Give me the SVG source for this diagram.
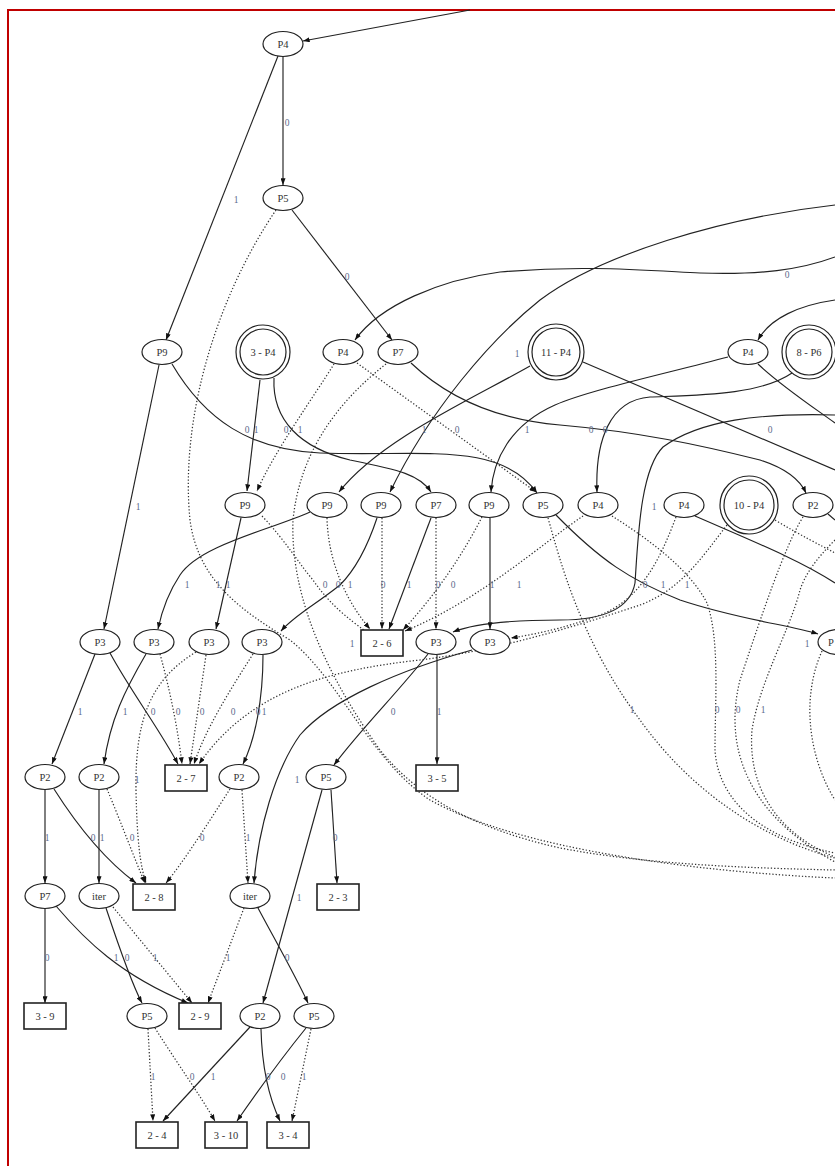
<svg xmlns="http://www.w3.org/2000/svg" width="835" height="1166" viewBox="0 0 835 1166">
<defs>
<style>
.n ellipse,.n circle{fill:#fff;stroke:#222;stroke-width:1.2}
.n rect{fill:#fff;stroke:#222;stroke-width:1.6}
.n text{font-family:"Liberation Serif",serif;font-size:10.5px;fill:#333;text-anchor:middle}
.e path{fill:none;stroke:#222;stroke-width:1.15}
.e path.d{stroke-dasharray:1.3,2;stroke:#333;stroke-width:1.25}
.s{marker-end:url(#a)}
.l text{font-family:"Liberation Serif",serif;font-size:9.5px;fill:#5b6b8c;text-anchor:middle}
</style>
<marker id="a" viewBox="0 0 8 6" refX="8" refY="3" markerWidth="7" markerHeight="5" markerUnits="userSpaceOnUse" orient="auto"><path d="M0,0L8,3L0,6z" fill="#111"/></marker>
</defs>
<rect x="0" y="0" width="835" height="1166" fill="#fff"/>
<rect x="8" y="10" width="900" height="1250" fill="none" stroke="#c00000" stroke-width="2"/>
<g class="e" id="connectors">
<path class="s" d="M470,10 L303,41"/>
<path class="s" d="M283,57 L283,185"/>
<path class="s" d="M278,56 L166,340"/>
<path class="s" d="M292,210 L392,340"/>
<path class="d" d="M276,210 C215,300 180,420 190,520 C198,580 240,610 290,640 C340,680 370,760 430,800 C520,850 700,872 835,878"/>
<path class="d" d="M386,364 C340,400 300,450 293,520 C290,600 330,680 380,750 C420,800 480,830 560,848 C650,865 750,868 835,870"/>
<path class="s" d="M159,365 L104,629"/>
<path class="s" d="M172,364 C205,420 250,450 320,453 C420,457 500,440 537,493"/>
<path class="s" d="M260,380 L247,491"/>
<path class="s" d="M274,378 C272,420 300,448 350,460 C400,470 420,475 431,492"/>
<path class="d s" d="M334,364 C315,395 275,450 257,491"/>
<path class="d s" d="M357,363 L536,492"/>
<path class="s" d="M411,363 C450,400 500,420 560,425 C640,432 700,445 760,460 C785,468 800,480 806,493"/>
<path class="s" d="M530,366 C470,400 380,440 339,492"/>
<path class="s" d="M835,205 C720,218 600,255 540,300 C490,340 430,410 390,492"/>
<path class="s" d="M835,257 C800,270 760,275 700,273 C640,270 580,265 500,272 C440,280 380,305 355,340"/>
<path d="M583,362 C650,390 720,420 835,470"/>
<path class="s" d="M728,357 C660,375 590,390 555,405 C510,425 493,460 491,492"/>
<path d="M758,364 C780,385 810,405 835,423"/>
<path class="s" d="M792,373 C760,395 700,395 650,397 C610,400 595,440 597,492"/>
<path class="s" d="M835,300 C800,305 770,318 758,340"/>
<path class="s" d="M835,415 C760,413 700,420 663,447 C640,470 638,540 635,583 C630,610 600,620 560,620 C500,620 470,625 453,632"/>
<path class="s" d="M241,518 L216,629"/>
<path class="d" d="M262,516 C285,540 300,565 313,580 C330,605 350,620 364,630"/>
<path class="s" d="M310,512 C270,530 200,545 180,575 C170,590 162,610 158,629"/>
<path class="d s" d="M327,518 C328,560 345,600 370,629"/>
<path class="s" d="M377,518 C368,545 355,570 340,585 C315,605 295,615 281,631"/>
<path class="d s" d="M382,518 L382,629"/>
<path class="s" d="M431,518 L389,629"/>
<path class="d s" d="M436,518 L436,629"/>
<path class="s" d="M490,518 L490,629"/>
<path class="d s" d="M482,517 C465,550 440,590 403,630"/>
<path class="d s" d="M583,516 C540,545 480,600 405,631"/>
<path class="s" d="M556,515 C600,560 630,580 680,600 C740,620 790,625 818,634"/>
<path class="d" d="M548,518 C560,560 580,640 640,720 C690,790 760,838 835,858"/>
<path class="d" d="M612,516 C650,540 690,570 707,603 C720,640 715,700 715,750 C718,800 760,838 835,853"/>
<path class="d s" d="M676,517 C660,560 640,600 600,615 C560,630 530,635 511,638"/>
<path class="d s" d="M727,525 C700,560 680,590 640,605 C580,625 500,650 420,660 C330,670 250,690 199,764"/>
<path d="M695,516 C750,540 800,560 835,583"/>
<path class="d" d="M775,520 C800,535 820,545 835,553"/>
<path class="d" d="M803,517 C785,545 760,620 740,680 C725,740 740,810 835,862"/>
<path d="M828,514 L835,520"/>
<path class="d" d="M822,651 C800,700 810,760 835,800"/>
<path class="d" d="M835,540 C815,560 805,575 800,590 C790,630 760,680 752,730 C748,780 770,830 835,857"/>
<path class="s" d="M95,654 L52,764"/>
<path class="s" d="M110,653 C130,690 160,730 178,764"/>
<path class="s" d="M146,654 C125,690 110,720 104,764"/>
<path class="d s" d="M160,654 C170,690 178,730 182,764"/>
<path class="d s" d="M206,655 L190,764"/>
<path class="d s" d="M196,652 C150,680 135,720 136,790 C137,840 140,865 146,883"/>
<path class="d s" d="M253,654 C230,690 205,730 194,764"/>
<path class="s" d="M263,655 C263,700 255,740 243,764"/>
<path class="s" d="M428,654 C400,690 360,730 334,765"/>
<path class="s" d="M437,655 L437,764"/>
<path class="s" d="M472,650 C400,670 330,700 300,735 C275,770 258,830 254,883"/>
<path class="s" d="M45,790 L45,883"/>
<path class="s" d="M54,789 C80,830 105,860 136,883"/>
<path class="s" d="M99,790 L99,883"/>
<path class="d s" d="M107,789 C120,820 135,860 145,883"/>
<path class="d s" d="M230,789 C210,820 185,860 166,883"/>
<path class="d s" d="M242,790 L248,883"/>
<path class="s" d="M322,790 L263,1003"/>
<path class="s" d="M331,790 L337,883"/>
<path class="s" d="M45,909 L45,1003"/>
<path class="s" d="M56,906 C85,940 120,975 188,1003"/>
<path class="s" d="M106,908 C120,950 135,990 142,1003"/>
<path class="d s" d="M113,907 L192,1003"/>
<path class="d s" d="M244,908 L208,1003"/>
<path class="s" d="M258,908 C275,940 295,975 308,1003"/>
<path class="d s" d="M148,1029 L153,1121"/>
<path class="d s" d="M155,1028 C175,1060 200,1095 215,1121"/>
<path class="s" d="M250,1027 L163,1121"/>
<path class="s" d="M261,1029 C262,1070 270,1100 280,1121"/>
<path class="s" d="M306,1028 C280,1060 255,1095 237,1121"/>
<path class="d s" d="M311,1029 L292,1121"/>
</g>
<g class="l" id="edge-labels">
<text x="287" y="126">0</text><text x="236" y="203">1</text><text x="347" y="280">0</text><text x="787" y="278">0</text>
<text x="517" y="357">1</text><text x="138" y="510">1</text>
<text x="247" y="433">0</text><text x="256" y="433">1</text><text x="286" y="433">0</text><text x="300" y="433">1</text>
<text x="424" y="433">1</text><text x="457" y="433">0</text><text x="527" y="433">1</text><text x="591" y="433">0</text><text x="605" y="433">0</text><text x="770" y="433">0</text>
<text x="654" y="510">1</text>
<text x="187" y="588">1</text><text x="218" y="588">1</text><text x="228" y="588">1</text>
<text x="325" y="588">0</text><text x="338" y="588">0</text><text x="350" y="588">1</text><text x="383" y="588">0</text><text x="409" y="588">1</text>
<text x="438" y="588">0</text><text x="453" y="588">0</text><text x="492" y="588">1</text><text x="519" y="588">1</text>
<text x="645" y="588">0</text><text x="663" y="588">1</text><text x="687" y="588">1</text>
<text x="352" y="647">1</text><text x="807" y="647">1</text>
<text x="80" y="715">1</text><text x="125" y="715">1</text><text x="153" y="715">0</text><text x="178" y="715">0</text><text x="202" y="715">0</text>
<text x="233" y="715">0</text><text x="258" y="715">0</text><text x="264" y="715">1</text><text x="393" y="715">0</text><text x="439" y="715">1</text>
<text x="632" y="713">1</text><text x="717" y="713">0</text><text x="738" y="713">0</text><text x="763" y="713">1</text>
<text x="137" y="783">1</text><text x="297" y="783">1</text>
<text x="47" y="841">1</text><text x="93" y="841">0</text><text x="102" y="841">1</text><text x="132" y="841">0</text><text x="202" y="841">0</text><text x="248" y="841">1</text><text x="335" y="841">0</text>
<text x="299" y="901">1</text>
<text x="47" y="961">0</text><text x="116" y="961">1</text><text x="127" y="961">0</text><text x="155" y="961">1</text><text x="228" y="961">1</text><text x="287" y="961">0</text>
<text x="153" y="1080">1</text><text x="192" y="1080">0</text><text x="213" y="1080">1</text><text x="268" y="1080">0</text><text x="283" y="1080">0</text><text x="304" y="1080">1</text>
</g>
<g class="n" id="n1"><ellipse cx="283" cy="44" rx="20" ry="12.5"/><text x="283" y="47.5">P4</text></g>
<g class="n" id="n2"><ellipse cx="283" cy="198" rx="20" ry="12.5"/><text x="283" y="201.5">P5</text></g>
<g class="n" id="n3"><ellipse cx="162" cy="352" rx="20" ry="12.5"/><text x="162" y="355.5">P9</text></g>
<g class="n" id="n4"><circle cx="263" cy="352" r="27"/><circle cx="263" cy="352" r="23"/><text x="263" y="355.5">3 - P4</text></g>
<g class="n" id="n5"><ellipse cx="343" cy="352" rx="20" ry="12.5"/><text x="343" y="355.5">P4</text></g>
<g class="n" id="n6"><ellipse cx="398" cy="352" rx="20" ry="12.5"/><text x="398" y="355.5">P7</text></g>
<g class="n" id="n7"><circle cx="556" cy="352" r="28"/><circle cx="556" cy="352" r="24"/><text x="556" y="355.5">11 - P4</text></g>
<g class="n" id="n8"><ellipse cx="748" cy="352" rx="20" ry="12.5"/><text x="748" y="355.5">P4</text></g>
<g class="n" id="n9"><circle cx="809" cy="352" r="27"/><circle cx="809" cy="352" r="23"/><text x="809" y="355.5">8 - P6</text></g>
<g class="n" id="n10"><ellipse cx="245" cy="505" rx="20" ry="12.5"/><text x="245" y="508.5">P9</text></g>
<g class="n" id="n11"><ellipse cx="327" cy="505" rx="20" ry="12.5"/><text x="327" y="508.5">P9</text></g>
<g class="n" id="n12"><ellipse cx="381" cy="505" rx="20" ry="12.5"/><text x="381" y="508.5">P9</text></g>
<g class="n" id="n13"><ellipse cx="436" cy="505" rx="20" ry="12.5"/><text x="436" y="508.5">P7</text></g>
<g class="n" id="n14"><ellipse cx="489" cy="505" rx="20" ry="12.5"/><text x="489" y="508.5">P9</text></g>
<g class="n" id="n15"><ellipse cx="543" cy="505" rx="20" ry="12.5"/><text x="543" y="508.5">P5</text></g>
<g class="n" id="n16"><ellipse cx="598" cy="505" rx="20" ry="12.5"/><text x="598" y="508.5">P4</text></g>
<g class="n" id="n17"><ellipse cx="684" cy="505" rx="20" ry="12.5"/><text x="684" y="508.5">P4</text></g>
<g class="n" id="n18"><circle cx="749" cy="505" r="29"/><circle cx="749" cy="505" r="25"/><text x="749" y="508.5">10 - P4</text></g>
<g class="n" id="n19"><ellipse cx="813" cy="505" rx="20" ry="12.5"/><text x="813" y="508.5">P2</text></g>
<g class="n" id="n20"><ellipse cx="100" cy="642" rx="20" ry="12.5"/><text x="100" y="645.5">P3</text></g>
<g class="n" id="n21"><ellipse cx="154" cy="642" rx="20" ry="12.5"/><text x="154" y="645.5">P3</text></g>
<g class="n" id="n22"><ellipse cx="209" cy="642" rx="20" ry="12.5"/><text x="209" y="645.5">P3</text></g>
<g class="n" id="n23"><ellipse cx="262" cy="642" rx="20" ry="12.5"/><text x="262" y="645.5">P3</text></g>
<g class="n" id="n24"><rect x="361" y="630" width="42" height="26"/><text x="382" y="646.5">2 - 6</text></g>
<g class="n" id="n25"><ellipse cx="436" cy="642" rx="20" ry="12.5"/><text x="436" y="645.5">P3</text></g>
<g class="n" id="n26"><ellipse cx="490" cy="642" rx="20" ry="12.5"/><text x="490" y="645.5">P3</text></g>
<g class="n" id="n27"><ellipse cx="838" cy="642" rx="20" ry="12.5"/><text x="828" y="645.5" style="text-anchor:start">P</text></g>
<g class="n" id="n28"><ellipse cx="45" cy="777" rx="20" ry="12.5"/><text x="45" y="780.5">P2</text></g>
<g class="n" id="n29"><ellipse cx="99" cy="777" rx="20" ry="12.5"/><text x="99" y="780.5">P2</text></g>
<g class="n" id="n30"><rect x="165" y="765" width="42" height="26"/><text x="186" y="781.5">2 - 7</text></g>
<g class="n" id="n31"><ellipse cx="239" cy="777" rx="20" ry="12.5"/><text x="239" y="780.5">P2</text></g>
<g class="n" id="n32"><ellipse cx="326" cy="777" rx="20" ry="12.5"/><text x="326" y="780.5">P5</text></g>
<g class="n" id="n33"><rect x="416" y="765" width="42" height="26"/><text x="437" y="781.5">3 - 5</text></g>
<g class="n" id="n34"><ellipse cx="45" cy="896" rx="20" ry="12.5"/><text x="45" y="899.5">P7</text></g>
<g class="n" id="n35"><ellipse cx="99" cy="896" rx="20" ry="12.5"/><text x="99" y="899.5">iter</text></g>
<g class="n" id="n36"><rect x="133" y="884" width="42" height="26"/><text x="154" y="900.5">2 - 8</text></g>
<g class="n" id="n37"><ellipse cx="250" cy="896" rx="20" ry="12.5"/><text x="250" y="899.5">iter</text></g>
<g class="n" id="n38"><rect x="317" y="884" width="42" height="26"/><text x="338" y="900.5">2 - 3</text></g>
<g class="n" id="n39"><rect x="24" y="1003" width="42" height="26"/><text x="45" y="1019.5">3 - 9</text></g>
<g class="n" id="n40"><ellipse cx="147" cy="1016" rx="20" ry="12.5"/><text x="147" y="1019.5">P5</text></g>
<g class="n" id="n41"><rect x="179" y="1003" width="42" height="26"/><text x="200" y="1019.5">2 - 9</text></g>
<g class="n" id="n42"><ellipse cx="260" cy="1016" rx="20" ry="12.5"/><text x="260" y="1019.5">P2</text></g>
<g class="n" id="n43"><ellipse cx="314" cy="1016" rx="20" ry="12.5"/><text x="314" y="1019.5">P5</text></g>
<g class="n" id="n44"><rect x="136" y="1122" width="42" height="26"/><text x="157" y="1138.5">2 - 4</text></g>
<g class="n" id="n45"><rect x="205" y="1122" width="42" height="26"/><text x="226" y="1138.5">3 - 10</text></g>
<g class="n" id="n46"><rect x="267" y="1122" width="42" height="26"/><text x="288" y="1138.5">3 - 4</text></g>
</svg>
